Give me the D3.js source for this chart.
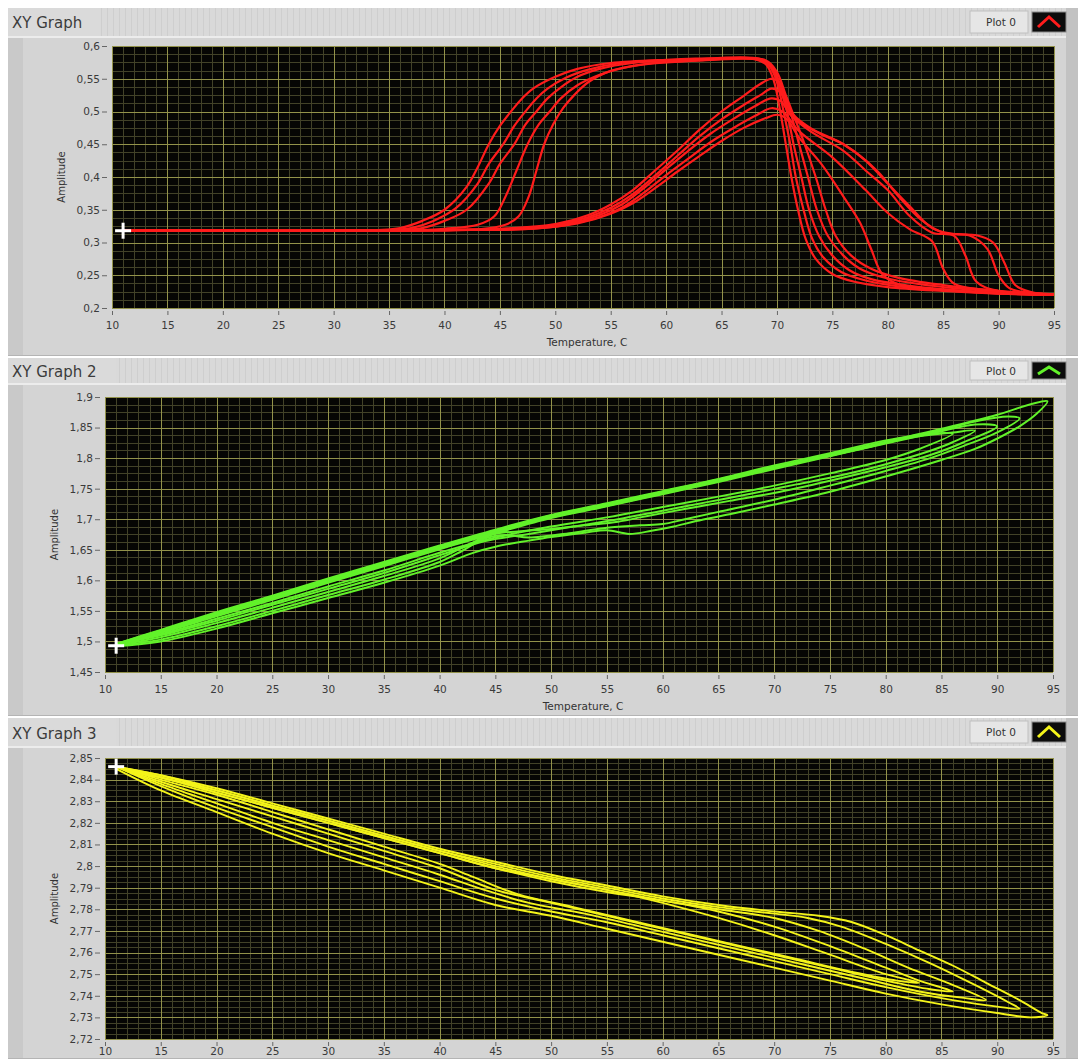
<!DOCTYPE html>
<html>
<head>
<meta charset="utf-8">
<script src="https://cdn.jsdelivr.net/npm/d3@7"></script>
<style>
body { margin: 0; background: #ffffff; }
svg text { font-family: "DejaVu Sans", sans-serif; }
</style>
</head>
<body>
<script>
// ---- axis ticks ----
var xTicks = [10, 15, 20, 25, 30, 35, 40, 45, 50, 55, 60, 65, 70, 75, 80, 85, 90, 95];
var redYTicks = [0.2, 0.25, 0.3, 0.35, 0.4, 0.45, 0.5, 0.55, 0.6];
var greenYTicks = [1.45, 1.5, 1.55, 1.6, 1.65, 1.7, 1.75, 1.8, 1.85, 1.9];
var yellowYTicks = [2.72, 2.73, 2.74, 2.75, 2.76, 2.77, 2.78, 2.79, 2.8, 2.81, 2.82, 2.83, 2.84, 2.85];
var titles = ["XY Graph", "XY Graph 2", "XY Graph 3"];

// ---- XY Graph: runs that plateau high and drop sharply ----
var redEarlyRuns = [
  [[11,.318],[20,.318],[30,.318],[34,.319],[36,.322],[38,.333],[40,.35],[42,.385],[43,.415],[44,.45],[45,.478],[46,.5],[47,.52],[48,.535],[50,.553],[52,.565],[55,.574],[60,.579],[65,.581],[68,.58],[69,.572],[69.7,.548],[70.3,.5],[70.8,.45],[71.3,.4],[71.9,.35],[72.6,.305],[73.5,.275],[75,.252],[77,.24],[80,.232],[85,.226],[90,.222],[95,.22]],
  [[11,.318],[20,.318],[30,.318],[35,.319],[37,.322],[39,.333],[41,.352],[43,.39],[44,.42],[45.3,.45],[46.3,.478],[47.3,.5],[48.3,.52],[49.3,.535],[51,.552],[53,.564],[56,.574],[60,.578],[65,.58],[68.3,.579],[69.3,.57],[70,.545],[70.6,.5],[71.2,.45],[71.7,.4],[72.4,.35],[73.2,.305],[74.2,.277],[75.8,.255],[78,.242],[81,.233],[86,.226],[91,.222],[95,.22]],
  [[11,.318],[20,.318],[30,.318],[36,.319],[38,.322],[40,.333],[42,.35],[44,.39],[45,.42],[46.3,.45],[47.3,.48],[48.3,.5],[49.3,.52],[50.5,.537],[52,.553],[54,.565],[57,.574],[62,.579],[68.5,.58],[69.5,.568],[70.2,.54],[70.9,.5],[71.5,.45],[72.2,.4],[72.9,.35],[73.8,.31],[75,.28],[76.5,.258],[78.5,.244],[82,.234],[87,.226],[95,.22]],
  [[11,.318],[20,.318],[30,.318],[38,.319],[40,.321],[43,.327],[44.5,.34],[45.5,.37],[46.5,.41],[47.5,.45],[48.5,.48],[49.5,.5],[50.5,.52],[52,.54],[54,.556],[56,.566],[59,.574],[63,.578],[68.7,.579],[69.7,.565],[70.4,.535],[71.2,.5],[72,.45],[72.8,.4],[73.6,.35],[74.6,.31],[76,.28],[77.5,.26],[80,.245],[84,.234],[89,.226],[95,.22]],
  [[11,.318],[20,.318],[30,.318],[40,.319],[43,.32],[45.5,.327],[46.7,.34],[47.6,.37],[48.3,.41],[49,.45],[49.8,.48],[50.7,.505],[51.7,.525],[53,.545],[55,.562],[58,.572],[62,.577],[69,.578],[70,.56],[70.8,.525],[71.6,.49],[72.5,.45],[73.5,.4],[74.4,.35],[75.3,.31],[76.7,.28],[78.5,.26],[81,.246],[85,.235],[90,.226],[95,.221]]
];

// ---- XY Graph: runs that rise late and fall with a shoulder ----
var redLateRuns = [
  [[11,.318],[20,.318],[30,.318],[40,.319],[45,.321],[50,.328],[53,.342],[55,.358],[57,.38],[59,.41],[61,.44],[63,.472],[65,.5],[67,.524],[68.5,.542],[69.5,.55],[70.2,.545],[70.8,.52],[71.5,.495],[73,.475],[76,.45],[78,.425],[80,.39],[82,.355],[84,.322],[86,.313],[88,.311],[89.5,.3],[90.5,.27],[91.5,.235],[93,.224],[95,.22]],
  [[11,.318],[20,.318],[30,.318],[40,.319],[46,.321],[50,.327],[53,.339],[55,.353],[57,.374],[59,.402],[61,.432],[63,.462],[65,.488],[67,.51],[68.5,.525],[69.5,.535],[70.3,.53],[71,.505],[72,.485],[74,.465],[76,.45],[79,.41],[81,.37],[83,.335],[85,.315],[87.5,.31],[89,.29],[90,.25],[91,.23],[93,.223],[95,.22]],
  [[11,.318],[20,.318],[30,.318],[40,.319],[47,.321],[51,.328],[54,.342],[56,.358],[58,.383],[60,.412],[62,.44],[64,.466],[66,.488],[68,.508],[69.5,.52],[70.4,.515],[71.2,.495],[73,.47],[76,.44],[78,.41],[80,.38],[82,.34],[84,.315],[86,.31],[87,.28],[88,.24],[90,.226],[95,.22]],
  [[11,.318],[20,.318],[30,.318],[40,.319],[48,.321],[51,.327],[54,.339],[56,.353],[58,.376],[60,.403],[62,.428],[64,.453],[66,.474],[68,.493],[69.5,.505],[70.5,.5],[72,.47],[75,.43],[78,.38],[80,.345],[82,.32],[84,.302],[85,.26],[86,.237],[90,.226],[95,.22]],
  [[11,.318],[20,.318],[30,.318],[40,.319],[48,.321],[52,.329],[55,.344],[57,.36],[59,.383],[61,.408],[63,.432],[65,.455],[67,.475],[69,.49],[70,.495],[70.8,.49],[72,.46],[74,.42],[76,.37],[77.5,.33],[78.5,.29],[79.5,.252],[81,.236],[85,.228],[90,.222],[95,.22]]
];

// ---- XY Graph 2: hysteresis loops (heating branch then cooling branch) ----
var greenLoops = [
  [[11,1.492],[15,1.5],[20,1.521],[25,1.546],[30,1.571],[35,1.596],[40,1.624],[43,1.645],[45,1.655],[48,1.665],[50,1.671],[53,1.678],[55,1.682],[57,1.676],[59,1.681],[61,1.688],[63,1.697],[66,1.708],[70,1.724],[75,1.745],[80,1.77],[85,1.797],[88,1.815],[90,1.832],[92,1.852],[93.5,1.872],[94.5,1.893],
   [93,1.888],[90,1.871],[85,1.848],[80,1.827],[75,1.806],[70,1.786],[65,1.764],[60,1.744],[55,1.724],[50,1.705],[45,1.68],[40,1.654],[35,1.627],[30,1.6],[25,1.572],[20,1.545],[15,1.517],[11,1.495]],
  [[11,1.493],[15,1.503],[20,1.525],[25,1.55],[30,1.576],[35,1.601],[40,1.63],[42,1.648],[44,1.668],[46,1.674],[48,1.67],[52,1.678],[55,1.686],[58,1.69],[60,1.692],[62,1.7],[65,1.712],[70,1.732],[75,1.755],[80,1.779],[84,1.8],[87,1.82],[90,1.842],[92,1.865],
   [91,1.868],[88,1.86],[85,1.846],[80,1.825],[75,1.804],[70,1.784],[65,1.762],[60,1.742],[55,1.722],[50,1.703],[45,1.679],[40,1.652],[35,1.625],[30,1.598],[25,1.57],[20,1.543],[15,1.515],[11,1.494]],
  [[11,1.494],[15,1.507],[20,1.53],[25,1.555],[30,1.581],[35,1.607],[40,1.636],[43,1.662],[45,1.676],[47,1.68],[50,1.684],[53,1.69],[56,1.696],[58,1.703],[60,1.71],[63,1.72],[66,1.73],[70,1.743],[75,1.763],[80,1.785],[84,1.805],[87,1.826],[90,1.852],
   [88,1.855],[85,1.844],[80,1.824],[75,1.803],[70,1.782],[65,1.761],[60,1.741],[55,1.721],[50,1.702],[45,1.677],[40,1.651],[35,1.623],[30,1.596],[25,1.568],[20,1.541],[15,1.514],[11,1.494]],
  [[11,1.495],[15,1.51],[20,1.534],[25,1.56],[30,1.586],[35,1.612],[40,1.641],[44,1.664],[48,1.676],[52,1.688],[56,1.7],[60,1.714],[64,1.728],[68,1.742],[72,1.757],[76,1.772],[80,1.79],[84,1.812],[86,1.826],[88,1.845],
   [86,1.842],[82,1.833],[78,1.816],[74,1.8],[70,1.785],[65,1.765],[60,1.745],[55,1.725],[50,1.706],[45,1.681],[40,1.656],[35,1.628],[30,1.601],[25,1.573],[20,1.546],[15,1.518],[11,1.496]],
  [[11,1.495],[15,1.512],[20,1.537],[25,1.563],[30,1.59],[35,1.616],[40,1.645],[45,1.67],[50,1.688],[55,1.703],[60,1.72],[65,1.737],[70,1.755],[75,1.775],[80,1.797],[83,1.815],[86,1.84],
   [84,1.84],[80,1.829],[75,1.808],[70,1.788],[65,1.766],[60,1.746],[55,1.726],[50,1.707],[45,1.683],[40,1.657],[35,1.63],[30,1.603],[25,1.575],[20,1.548],[15,1.519],[11,1.496]]
];

// ---- XY Graph 3: nested loops ----
var yellowLoops = [
  [[11,2.846],[15,2.842],[20,2.836],[25,2.829],[30,2.822],[35,2.815],[40,2.808],[45,2.802],[50,2.796],[55,2.791],[60,2.786],[65,2.782],[70,2.779],[74,2.777],[77,2.774],[80,2.768],[83,2.761],[86,2.754],[89,2.746],[92,2.738],[94,2.732],[94.5,2.731],
   [93,2.73],[90,2.732],[85,2.736],[80,2.741],[75,2.747],[70,2.753],[65,2.759],[60,2.765],[55,2.771],[50,2.777],[45,2.782],[40,2.79],[35,2.798],[30,2.806],[25,2.815],[20,2.825],[15,2.835],[11,2.845]],
  [[11,2.846],[15,2.842],[20,2.835],[25,2.828],[30,2.821],[35,2.814],[40,2.807],[45,2.801],[50,2.795],[55,2.79],[60,2.785],[65,2.781],[70,2.778],[73,2.776],[76,2.772],[80,2.764],[84,2.755],[88,2.745],[91,2.737],[92,2.734],
   [90,2.735],[86,2.738],[80,2.744],[75,2.75],[70,2.756],[65,2.762],[60,2.768],[55,2.774],[50,2.779],[45,2.785],[40,2.793],[35,2.801],[30,2.809],[25,2.818],[20,2.827],[15,2.837],[11,2.846]],
  [[11,2.846],[15,2.841],[20,2.835],[25,2.828],[30,2.821],[35,2.814],[40,2.807],[45,2.8],[50,2.794],[55,2.789],[60,2.784],[65,2.78],[70,2.776],[74,2.77],[78,2.762],[82,2.753],[86,2.745],[89,2.738],
   [87,2.739],[83,2.742],[78,2.748],[73,2.754],[68,2.76],[63,2.766],[58,2.772],[53,2.778],[48,2.783],[44,2.789],[40,2.796],[35,2.804],[30,2.812],[25,2.82],[20,2.829],[15,2.838],[11,2.846]],
  [[11,2.846],[15,2.841],[20,2.834],[25,2.827],[30,2.82],[35,2.813],[40,2.806],[45,2.799],[50,2.793],[55,2.788],[60,2.784],[65,2.779],[70,2.772],[75,2.763],[80,2.753],[83,2.747],[86,2.742],
   [84,2.743],[80,2.747],[75,2.753],[70,2.759],[65,2.765],[60,2.771],[55,2.777],[50,2.783],[45,2.789],[40,2.799],[35,2.807],[30,2.815],[25,2.823],[20,2.831],[15,2.839],[11,2.846]],
  [[11,2.846],[15,2.841],[20,2.834],[25,2.827],[30,2.82],[35,2.813],[40,2.806],[45,2.799],[50,2.794],[55,2.789],[60,2.783],[65,2.776],[70,2.768],[75,2.759],[80,2.75],[83,2.746],
   [81,2.747],[77,2.751],[72,2.757],[67,2.763],[62,2.769],[57,2.775],[52,2.781],[47,2.787],[43,2.795],[40,2.801],[35,2.809],[30,2.817],[25,2.825],[20,2.833],[15,2.84],[11,2.846]]
];

// start cursors (white crosses)
var redCursor = [11, 0.318];
var greenCursor = [11, 1.493];
var yellowCursor = [11, 2.846];

var W = 1085, H = 1059;
var svg = d3.select("body").append("svg")
  .attr("width", W)
  .attr("height", H);

var defs = svg.append("defs");
var pat = defs.append("pattern")
  .attr("id", "stripes")
  .attr("width", 6).attr("height", 6)
  .attr("patternUnits", "userSpaceOnUse");
pat.append("rect").attr("width", 6).attr("height", 6).attr("fill", "#d9d9d9");
pat.append("rect").attr("x", 5).attr("width", 1).attr("height", 6).attr("fill", "#cecece");

function fmtComma(d){
  return String(+d.toFixed(3)).replace(".", ",");
}

function drawGraph(cfg){
  var g = svg.append("g");

  // panel frame
  g.append("rect")
    .attr("x", 8).attr("y", cfg.top)
    .attr("width", 1070).attr("height", cfg.bottom - cfg.top)
    .attr("fill", "#d4d4d4");
  g.append("rect")
    .attr("x", 8).attr("y", cfg.titleBottom)
    .attr("width", 15).attr("height", cfg.bottom - cfg.titleBottom)
    .attr("fill", "#c9c9c9");
  g.append("rect")
    .attr("x", 1066).attr("y", cfg.top)
    .attr("width", 12).attr("height", cfg.bottom - cfg.top)
    .attr("fill", "#c2c2c2");
  g.append("line")
    .attr("x1", 8).attr("x2", 1078)
    .attr("y1", cfg.bottom - 0.5).attr("y2", cfg.bottom - 0.5)
    .attr("stroke", "#b4b4b4");

  // title bar
  g.append("rect")
    .attr("x", 8).attr("y", cfg.top)
    .attr("width", 1058).attr("height", cfg.titleBottom - cfg.top)
    .attr("fill", "url(#stripes)");
  g.append("rect")
    .attr("x", 8).attr("y", cfg.top)
    .attr("width", cfg.titleW).attr("height", cfg.titleBottom - cfg.top)
    .attr("fill", "#dadada");
  g.append("line")
    .attr("x1", 8).attr("x2", 1066)
    .attr("y1", cfg.titleBottom + 1).attr("y2", cfg.titleBottom + 1)
    .attr("stroke", "#ececec").attr("stroke-width", 2);
  g.append("text")
    .attr("x", 12).attr("y", cfg.top + cfg.titleBase)
    .attr("font-size", "15px")
    .attr("fill", "#3c3c3c")
    .text(cfg.title);

  // legend
  var ly = cfg.top + 3, lh = cfg.titleBottom - cfg.top - 6;
  g.append("rect")
    .attr("x", 970).attr("y", ly).attr("width", 58).attr("height", lh)
    .attr("fill", "#e6e6e6").attr("stroke", "#c0c0c0");
  g.append("text")
    .attr("x", 1001).attr("y", ly + lh / 2 + 4)
    .attr("text-anchor", "middle")
    .attr("font-size", "10.5px").attr("fill", "#333")
    .text("Plot 0");
  g.append("rect")
    .attr("x", 1032).attr("y", ly + 1).attr("width", 34).attr("height", lh - 2)
    .attr("fill", "#0c0c0c").attr("stroke", "#8a8a8a");
  g.append("polyline")
    .attr("points", [[1038, ly + lh - 6], [1049, ly + 6], [1060, ly + lh - 6]].join(" "))
    .attr("fill", "none").attr("stroke", cfg.color).attr("stroke-width", 3);

  // scales
  var x = d3.scaleLinear().domain([10, 95]).range([cfg.left, cfg.right]);
  var y = d3.scaleLinear().domain(cfg.yDomain).range([cfg.plotBottom, cfg.plotTop]);

  g.append("rect")
    .attr("x", cfg.left).attr("y", cfg.plotTop)
    .attr("width", cfg.right - cfg.left).attr("height", cfg.plotBottom - cfg.plotTop)
    .attr("fill", "#060604");

  // grid: minor then major
  var yStep = cfg.yTicks[1] - cfg.yTicks[0];
  var yMinor = d3.range(cfg.yDomain[0], cfg.yDomain[1] + 1e-9, yStep / 4);
  var xMinor = d3.range(10, 95.001, 1);
  var grid = g.append("g");
  grid.selectAll(".vminor").data(xMinor).enter().append("line")
    .attr("x1", d => Math.round(x(d)) + 0.5).attr("x2", d => Math.round(x(d)) + 0.5)
    .attr("y1", cfg.plotTop).attr("y2", cfg.plotBottom)
    .attr("stroke", "#424228");
  grid.selectAll(".hminor").data(yMinor).enter().append("line")
    .attr("y1", d => Math.round(y(d)) + 0.5).attr("y2", d => Math.round(y(d)) + 0.5)
    .attr("x1", cfg.left).attr("x2", cfg.right)
    .attr("stroke", "#424228");
  grid.selectAll(".vmajor").data(xTicks).enter().append("line")
    .attr("x1", d => Math.round(x(d)) + 0.5).attr("x2", d => Math.round(x(d)) + 0.5)
    .attr("y1", cfg.plotTop).attr("y2", cfg.plotBottom)
    .attr("stroke", "#92924a");
  grid.selectAll(".hmajor").data(cfg.yTicks).enter().append("line")
    .attr("y1", d => Math.round(y(d)) + 0.5).attr("y2", d => Math.round(y(d)) + 0.5)
    .attr("x1", cfg.left).attr("x2", cfg.right)
    .attr("stroke", "#92924a");

  // clip + data
  defs.append("clipPath").attr("id", "clip" + cfg.id)
    .append("rect")
    .attr("x", cfg.left).attr("y", cfg.plotTop)
    .attr("width", cfg.right - cfg.left).attr("height", cfg.plotBottom - cfg.plotTop);

  var line = d3.line()
    .x(d => x(d[0]))
    .y(d => y(d[1]))
    .curve(d3.curveCatmullRom.alpha(0.5));

  var plot = g.append("g").attr("clip-path", "url(#clip" + cfg.id + ")");
  plot.selectAll("path.run").data(cfg.runs).enter().append("path")
    .attr("class", "run")
    .attr("d", line)
    .attr("fill", "none")
    .attr("stroke", cfg.color)
    .attr("stroke-width", cfg.lineW)
    .attr("stroke-linejoin", "round");

  // cursor cross
  var cx = x(cfg.cursor[0]), cy = y(cfg.cursor[1]);
  plot.append("line").attr("x1", cx - 8).attr("x2", cx + 8).attr("y1", cy).attr("y2", cy)
    .attr("stroke", "#fff").attr("stroke-width", 3);
  plot.append("line").attr("x1", cx).attr("x2", cx).attr("y1", cy - 8).attr("y2", cy + 8)
    .attr("stroke", "#fff").attr("stroke-width", 3);

  // axes
  var yAxis = d3.axisLeft(y)
    .tickValues(cfg.yTicks)
    .tickFormat(fmtComma)
    .tickSizeInner(5).tickSizeOuter(0).tickPadding(2);
  var ya = g.append("g")
    .attr("transform", "translate(" + (cfg.left - 5) + ",0)")
    .call(yAxis);
  ya.select(".domain").remove();
  ya.selectAll("line").attr("stroke", "#666");
  ya.selectAll("text").attr("font-size", "10.5px").attr("fill", "#3a3a3a")
    .attr("font-family", "DejaVu Sans, sans-serif");

  var xAxis = d3.axisBottom(x)
    .tickValues(xTicks)
    .tickSizeInner(4).tickSizeOuter(0).tickPadding(cfg.xPad);
  var xa = g.append("g")
    .attr("transform", "translate(0," + (cfg.plotBottom + 3) + ")")
    .call(xAxis);
  xa.select(".domain").remove();
  xa.selectAll("line").attr("stroke", "#666");
  xa.selectAll("text").attr("font-size", "10.5px").attr("fill", "#3a3a3a")
    .attr("font-family", "DejaVu Sans, sans-serif");

  // axis titles
  g.append("text")
    .attr("transform", "translate(" + (cfg.left - 47) + "," + ((cfg.plotTop + cfg.plotBottom) / 2) + ") rotate(-90)")
    .attr("text-anchor", "middle")
    .attr("font-size", "10px").attr("fill", "#333")
    .text("Amplitude");
  if (cfg.xTitle) {
    g.append("text")
      .attr("x", (cfg.left + cfg.right) / 2 + 4)
      .attr("y", cfg.plotBottom + 38)
      .attr("text-anchor", "middle")
      .attr("font-size", "10.5px").attr("fill", "#333")
      .text("Temperature, C");
  }
}

drawGraph({
  id: 1, title: titles[0], titleW: 92,
  top: 8, titleBottom: 36, titleBase: 20, bottom: 356,
  left: 112, right: 1054, plotTop: 46, plotBottom: 308,
  yDomain: [0.2, 0.6], yTicks: redYTicks,
  color: "#ff1c1c", lineW: 2.2,
  runs: redEarlyRuns.concat(redLateRuns),
  cursor: redCursor, xTitle: true, xPad: 7
});

drawGraph({
  id: 2, title: titles[1], titleW: 108,
  top: 358, titleBottom: 383, titleBase: 19, bottom: 716,
  left: 105, right: 1053, plotTop: 397, plotBottom: 672,
  yDomain: [1.45, 1.9], yTicks: greenYTicks,
  color: "#62f22a", lineW: 2,
  runs: greenLoops,
  cursor: greenCursor, xTitle: true, xPad: 7
});

drawGraph({
  id: 3, title: titles[2], titleW: 108,
  top: 718, titleBottom: 746, titleBase: 21, bottom: 1059,
  left: 105, right: 1053, plotTop: 758, plotBottom: 1039,
  yDomain: [2.72, 2.85], yTicks: yellowYTicks,
  color: "#f4f41a", lineW: 1.9,
  runs: yellowLoops,
  cursor: yellowCursor, xTitle: false, xPad: 2
});
</script>
</body>
</html>
